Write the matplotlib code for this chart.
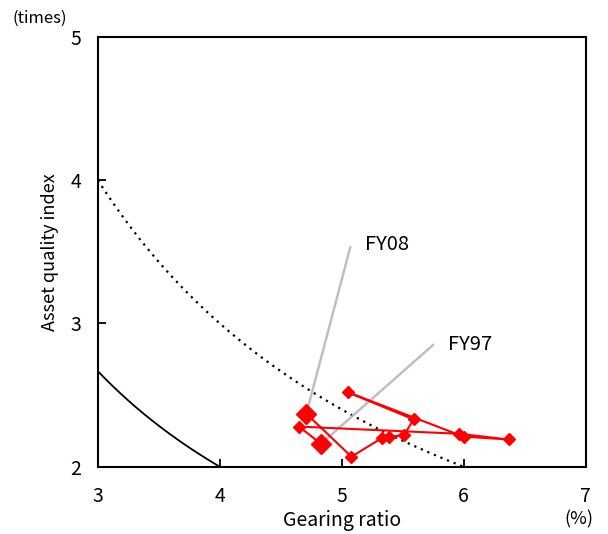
import numpy as np
import matplotlib.pyplot as plt

plt.rcParams['font.family'] = ['Noto Sans CJK JP', 'DejaVu Sans']

# Gearing ratio (%) vs asset quality index (times), FY97-FY08
years = ['FY97', 'FY98', 'FY99', 'FY00', 'FY01', 'FY02',
         'FY03', 'FY04', 'FY05', 'FY06', 'FY07', 'FY08']
gearing = [4.83, 4.65, 5.96, 6.37, 6.00, 5.05, 5.59, 5.51, 5.39, 5.33, 5.08, 4.71]
asset_quality = [2.16, 2.28, 2.23, 2.19, 2.21, 2.52, 2.33, 2.22, 2.21, 2.20, 2.07, 2.37]

# iso-lines: gearing x asset quality = const
iso_solid = 8
iso_dotted = 12

# label text position and leader line end (data coords)
label_pos = {'FY08': (5.19, 3.55), 'FY97': (5.87, 2.85)}
leader_end = {'FY08': (5.07, 3.53), 'FY97': (5.75, 2.85)}

fig = plt.figure(figsize=(6.08, 5.34), dpi=100)
ax = fig.add_axes([0.161, 0.126, 0.802, 0.805])

xs = np.linspace(3, iso_solid / 2, 100)
ax.plot(xs, iso_solid / xs, color='black', lw=1.3)
xd = np.linspace(3, iso_dotted / 2, 100)
ax.plot(xd, iso_dotted / xd, color='black', lw=1.6, linestyle=(0, (1, 2.2)))

# leader lines for first and last year
for yr, (tx, ty) in label_pos.items():
    i = years.index(yr)
    ex, ey = leader_end[yr]
    ax.plot([gearing[i], ex], [asset_quality[i], ey],
            color='#bfbfbf', lw=1.8, zorder=2)
    ax.text(tx, ty, yr, fontsize=14.5, va='center', ha='left')

ax.plot(gearing, asset_quality, color='red', lw=1.5, marker='D', markersize=6, zorder=3)
for yr in ('FY97', 'FY08'):
    i = years.index(yr)
    ax.plot(gearing[i], asset_quality[i], 'D', color='red', markersize=10, zorder=4)

ax.set_xlim(3, 7)
ax.set_ylim(2, 5)
ax.set_xticks([3, 4, 5, 6, 7])
ax.set_yticks([2, 3, 4, 5])
ax.tick_params(direction='in', length=6, width=1.3, labelsize=14)
ax.tick_params(axis='x', pad=14)
ax.tick_params(axis='y', pad=12)
for s in ax.spines.values():
    s.set_linewidth(1.5)

ax.set_xlabel('Gearing ratio', fontsize=14, labelpad=2)
ax.set_ylabel('Asset quality index', fontsize=13, labelpad=8)
fig.text(0.952, 0.018, '(%)', fontsize=13, ha='center')
fig.text(0.066, 0.958, '(times)', fontsize=12, ha='center')

fig.savefig('out.png', dpi=100)
